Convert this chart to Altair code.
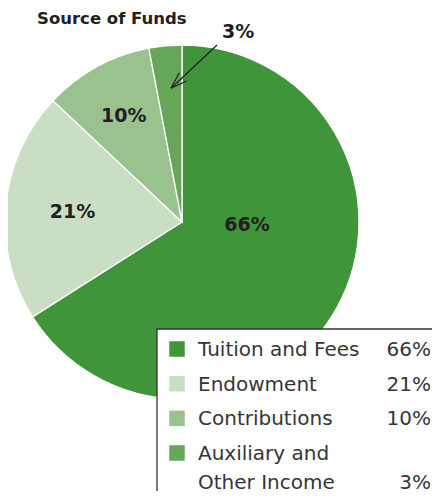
import altair as alt
import pandas as pd

# ---- data ----
categories = ["Tuition and Fees", "Endowment", "Contributions", "Auxiliary and Other Income"]
legend_names = ["Tuition and Fees", "Endowment", "Contributions", "Auxiliary and\nOther Income"]
values = [66, 21, 10, 3]
labels = ["66%", "21%", "10%", "3%"]
colors = ["#40953b", "#c9dec3", "#9ac28e", "#65a659"]
title_text = "Source of Funds"

df = pd.DataFrame({
    "cat": categories,
    "legend": legend_names,
    "value": values,
    "label": labels,
    "pct": ["\n" * n.count("\n") + l for n, l in zip(legend_names, labels)],
    "idx": list(range(len(values))),
})

# ---- layout ----
CX, CY, R = 174, 214, 177
W, H = 424, 483
FONT = "DejaVu Sans"
DARK = "#231f20"
TEXT = "#363636"

theta_scale = alt.Scale(domain=[0, sum(values)], range=[0, 6.283185307])
color_scale = alt.Scale(domain=categories, range=colors)

base = alt.Chart(df)

arc = base.mark_arc(radius=R, stroke="white", strokeWidth=1.3).encode(
    theta=alt.Theta("value:Q", stack=True, scale=theta_scale),
    color=alt.Color("cat:N", scale=color_scale, legend=None),
    order=alt.Order("idx:Q"),
    x=alt.value(CX),
    y=alt.value(CY),
)

stacked = base.transform_window(
    cum="sum(value)", sort=[alt.SortField("idx")], frame=[None, 0]
).transform_calculate(mid="datum.cum - datum.value / 2")


def pie_label(i, r, dx=0, dy=0):
    return stacked.transform_filter(alt.datum.idx == i).mark_text(
        radius=r, dx=dx, dy=dy, font=FONT, fontSize=19, fontWeight="bold", color=DARK,
        align="center", baseline="middle",
    ).encode(
        theta=alt.Theta("mid:Q", scale=theta_scale),
        text="label:N",
        x=alt.value(CX),
        y=alt.value(CY),
    )


labels_layers = [
    pie_label(0, 0, dx=65, dy=3),
    pie_label(1, 110),
    pie_label(2, 121),
    pie_label(3, 190, dx=74, dy=-1),
]

one = alt.Chart(pd.DataFrame({"t": [title_text]}))

title = one.mark_text(
    font=FONT, fontSize=16.5, fontWeight="bold", color=DARK, align="left", baseline="alphabetic"
).encode(text="t:N", x=alt.value(29), y=alt.value(16))

# arrow pointing to the 3% slice
arrow_parts = [
    ((209, 37), (163, 80.3)),
    ((163, 80.3), (171.3, 64.7)),
    ((163, 80.3), (178.7, 73)),
]
arrows = [
    one.mark_rule(color=DARK, strokeWidth=1.2).encode(
        x=alt.value(a[0]), y=alt.value(a[1]), x2=alt.value(b[0]), y2=alt.value(b[1])
    )
    for a, b in arrow_parts
]

# legend box (runs off the right and bottom edges)
box = one.mark_rect(fill="white", stroke="#333333", strokeWidth=1.3).encode(
    x=alt.value(149), y=alt.value(321), x2=alt.value(445), y2=alt.value(505)
)

row_y = alt.Y("idx:Q", scale=alt.Scale(domain=[0, 3], range=[341, 445]), axis=None)

swatch = base.mark_square(size=240, opacity=1).encode(
    x=alt.value(169),
    y=row_y,
    color=alt.Color("cat:N", scale=color_scale, legend=None),
)

leg_text = base.mark_text(
    font=FONT, fontSize=20, color=TEXT, align="left", baseline="alphabetic",
    dy=7, lineBreak="\n", lineHeight=29,
).encode(x=alt.value(190), y=row_y, text="legend:N")

leg_pct = base.mark_text(
    font=FONT, fontSize=20, color=TEXT, align="right", baseline="alphabetic",
    dy=7, lineBreak="\n", lineHeight=29,
).encode(x=alt.value(423), y=row_y, text="pct:N")

chart = alt.layer(
    arc, *labels_layers, title, *arrows, box, swatch, leg_text, leg_pct
).properties(
    width=W, height=H, padding=0, autosize=alt.AutoSizeParams(type="none")
).configure_view(strokeWidth=0)

chart.save("out.html", embed_options={"renderer": "svg", "actions": False})
